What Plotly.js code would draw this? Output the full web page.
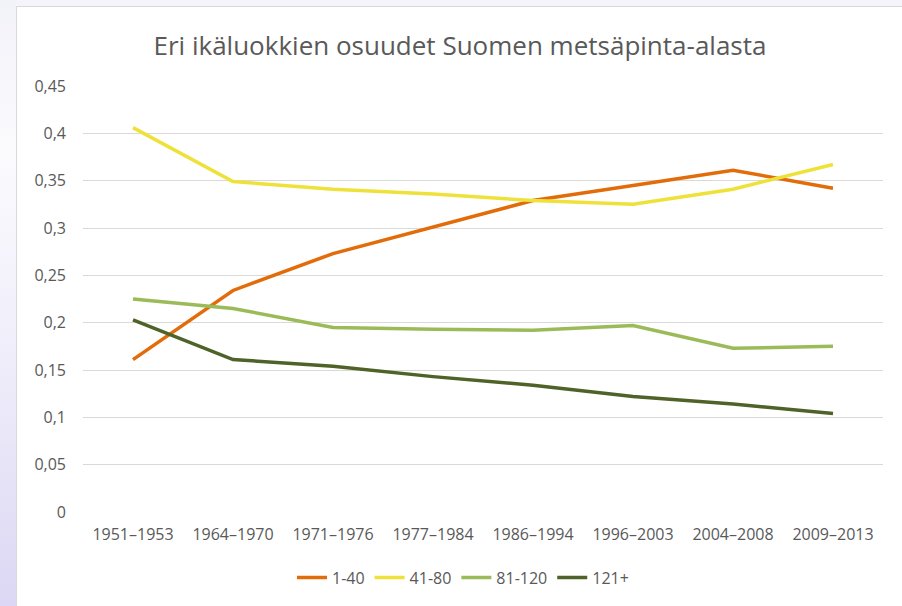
<!DOCTYPE html>
<html>
<head>
<meta charset="utf-8">
<script src="https://cdn.plot.ly/plotly-3.0.1.min.js"></script>
<style>
html,body{margin:0;padding:0;width:902px;height:606px;overflow:hidden;background:#f4f4fa;}
#strip{position:absolute;left:0;top:0;width:16px;height:606px;background:linear-gradient(to bottom,#f2f2f9 0%,#fbfbfe 25%,#efedfa 60%,#dcd7f4 100%);}
#chart{position:absolute;left:16px;top:6px;width:886px;height:600px;background:#fff;border-left:1px solid #d9d9d9;border-top:1px solid #d9d9d9;box-sizing:border-box;}
</style>
</head>
<body>
<div id="strip"></div>
<div id="chart"></div>
<script>
const categories = ["1951–1953","1964–1970","1971–1976","1977–1984","1986–1994","1996–2003","2004–2008","2009–2013"];
const seriesNames = ["1-40","41-80","81-120","121+"];
const s1_40   = [0.161,0.234,0.273,0.301,0.329,0.345,0.361,0.342];
const s41_80  = [0.406,0.349,0.341,0.336,0.329,0.325,0.341,0.367];
const s81_120 = [0.225,0.215,0.195,0.193,0.192,0.197,0.173,0.175];
const s121    = [0.203,0.161,0.154,0.143,0.134,0.122,0.114,0.104];
const yTicks = [0,0.05,0.1,0.15,0.2,0.25,0.3,0.35,0.4,0.45];
const yTickText = ["0","0,05","0,1","0,15","0,2","0,25","0,3","0,35","0,4","0,45"];
const colors = ["#e36c0a","#eee23a","#9bbb59","#4f6228"];
const allSeries = [s1_40,s41_80,s81_120,s121];

const traces = allSeries.map((s,i)=>({
  type:'scatter', mode:'lines', x:categories, y:s, name:seriesNames[i],
  line:{color:colors[i], width:3.5}
}));

const layout = {
  width:886, height:600,
  paper_bgcolor:'rgba(0,0,0,0)', plot_bgcolor:'#fff',
  margin:{l:66, r:20, t:79, b:92},
  font:{family:'Open Sans, Liberation Sans, sans-serif', color:'#595959', size:16},
  title:{text:'Eri ikäluokkien osuudet Suomen metsäpinta-alasta', x:0.5, xanchor:'center', y:0.935, yanchor:'middle', font:{size:26, color:'#595959'}},
  xaxis:{type:'category', range:[-0.5,7.5], showgrid:false, zeroline:false, showline:false, ticks:'', ticklabelstandoff:11, tickfont:{size:16, color:'#595959'}, fixedrange:true},
  yaxis:{range:[0,0.45], tickvals:yTicks, ticktext:yTickText, showgrid:true, gridcolor:'#d9d9d9', gridwidth:1, zeroline:false, showline:false, ticks:'', ticklabelstandoff:16, tickfont:{size:16, color:'#595959'}, fixedrange:true},
  showlegend:true,
  legend:{orientation:'h', x:0.475, xanchor:'center', y:-0.154, yanchor:'middle', font:{size:16, color:'#595959'}, itemwidth:30, traceorder:'normal'}
};
Plotly.newPlot('chart', traces, layout, {displayModeBar:false, staticPlot:true});
</script>
</body>
</html>
